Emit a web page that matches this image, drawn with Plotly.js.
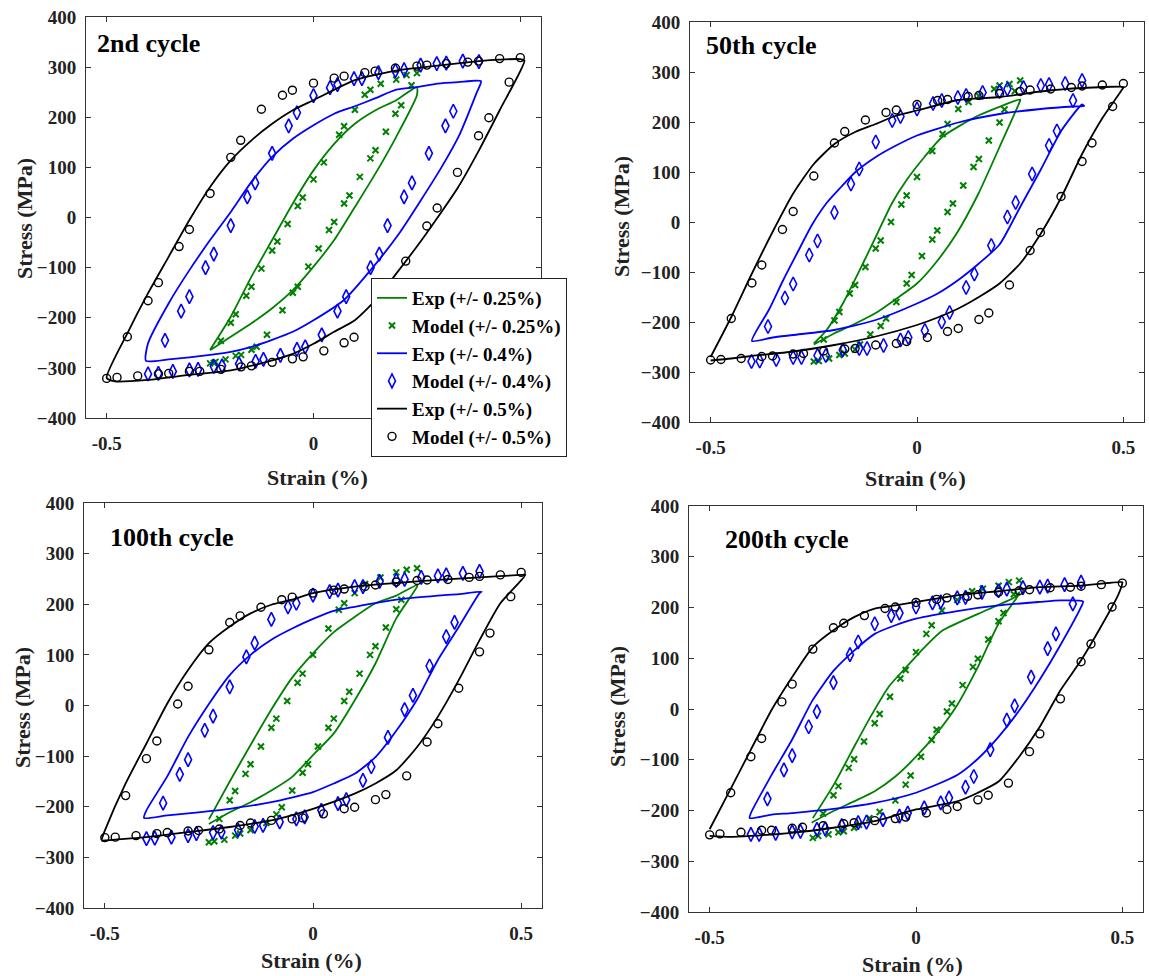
<!DOCTYPE html>
<html><head><meta charset="utf-8">
<script src="https://cdn.plot.ly/plotly-3.0.1.min.js"></script>
<style>html,body{margin:0;padding:0;background:#fff}#chart{width:1149px;height:976px}</style>
</head><body><div id="chart"></div>
<script>
// ---------- labels ----------
const panelTitles = ['2nd cycle', '50th cycle', '100th cycle', '200th cycle'];
const seriesNames = ['Exp (+/- 0.25%)', 'Model (+/- 0.25%)', 'Exp (+/- 0.4%)', 'Model (+/- 0.4%)', 'Exp (+/- 0.5%)', 'Model (+/- 0.5%)'];
const xTicks = [-0.5, 0, 0.5];
const xTickText = ['-0.5', '0', '0.5'];
const yTicks = [-400, -300, -200, -100, 0, 100, 200, 300, 400];

// ---------- 2nd cycle ----------
const c2_e25_x = [-0.25,-0.2,-0.15,-0.1,-0.05,0,0.05,0.1,0.15,0.2,0.25,0.25,0.2,0.15,0.1,0.05,0,-0.05,-0.1,-0.15,-0.2,-0.25];
const c2_e25_y = [-265,-238,-211,-181,-145,-98,-45,21,88,161,244,260,234,214,187,147,94,28,-45,-118,-198,-264];
const c2_m25_x = [0.25,0.225,0.2,0.1625,0.1375,0.124,0.1,0.074,0.062,0.025,0,-0.026,-0.038,-0.0625,-0.0875,-0.1,-0.126,-0.15,-0.1625,-0.188,-0.2,-0.224,-0.241,-0.25,-0.237,-0.2125,-0.188,-0.175,-0.15,-0.1375,-0.1125,-0.075,-0.05,-0.038,-0.0125,0.0125,0.0375,0.05,0.074,0.087,0.112,0.1375,0.15,0.175,0.198,0.212,0.237];
const c2_m25_y = [288,284,275,267,255,245,215,182,165,110,76,40,23,-13,-48,-66,-102,-138,-156,-193,-210,-246,-290,-291,-288,-283,-276,-274,-264,-258,-234,-185,-150,-138,-98,-62,-25,-9,28,44,81,118,134,171,207,224,264];
const c2_e40_x = [-0.405,-0.35,-0.3,-0.25,-0.2,-0.15,-0.1,-0.05,0,0.073,0.145,0.207,0.26,0.31,0.354,0.395,0.405,0.35,0.3,0.25,0.2,0.15,0.1,0.05,0,-0.05,-0.1,-0.15,-0.2,-0.25,-0.3,-0.35,-0.4,-0.405];
const c2_e40_y = [-286,-283,-279,-274,-268,-258,-244,-228,-205,-165,-98,-32,35,101,167,250,272,270,267,260,255,238,222,207,184,157,121,71,11,-45,-105,-171,-251,-286];
const c2_m40_x = [0.4,0.361,0.321,0.298,0.259,0.219,0.198,0.157,0.117,0.098,0.058,0.04,0,-0.04,-0.06,-0.1,-0.141,-0.16,-0.2,-0.241,-0.261,-0.3,-0.32,-0.359,-0.4,-0.375,-0.34,-0.3,-0.279,-0.241,-0.221,-0.18,-0.14,-0.121,-0.08,-0.04,-0.02,0.02,0.058,0.079,0.138,0.159,0.179,0.219,0.238,0.279,0.319,0.338];
const c2_m40_y = [311,312,308,307,304,295,293,289,277,277,265,259,243,209,183,128,69,41,-16,-73,-100,-158,-187,-245,-312,-311,-307,-304,-303,-297,-296,-292,-287,-283,-275,-263,-258,-234,-187,-158,-100,-73,-16,41,69,128,183,212];
const c2_e50_x = [-0.5,-0.48,-0.4,-0.3,-0.2,-0.1,-0.05,0,0.05,0.1,0.15,0.2,0.25,0.3,0.35,0.4,0.45,0.51,0.5,0.45,0.4,0.3,0.2,0.1,0,-0.05,-0.1,-0.15,-0.2,-0.25,-0.3,-0.35,-0.4,-0.45,-0.5];
const c2_e50_y = [-320,-327,-324,-314,-305,-285,-272,-252,-228,-205,-165,-112,-58,0,61,134,214,313,316,315,312,303,293,274,234,214,187,154,114,61,-5,-78,-151,-231,-320];
const c2_m50_x = [0.5,0.473,0.424,0.399,0.348,0.299,0.274,0.223,0.098,0.074,0.025,-0.025,-0.051,-0.1,-0.15,-0.175,-0.224,-0.275,-0.3,-0.35,-0.375,-0.425,-0.475,-0.5,0.45,0.399,0.373,0.321,0.274,0.25,0.198,0.149,0.124,0.074,0.05,0,-0.051,-0.075,-0.126,-0.176,-0.2,-0.25,-0.3,-0.325,-0.375,-0.4,-0.45];
const c2_m50_y = [319,270,199,163,90,19,-17,-87,-239,-250,-266,-278,-282,-289,-296,-298,-303,-307,-307,-311,-312,-316,-319,-321,317,312,310,307,304,302,298,292,289,282,278,268,254,244,216,154,120,48,-24,-58,-130,-166,-238];

// ---------- 50th cycle ----------
const c50_e25_x = [-0.25,-0.201,-0.149,-0.096,-0.044,0,0.044,0.096,0.149,0.2,0.25,0.25,0.149,0.061,0.018,-0.026,-0.061,-0.096,-0.131,-0.175,-0.219,-0.25];
const c50_e25_y = [-245,-223,-203,-180,-150,-123,-83,-23,57,150,243,245,213,170,130,83,37,-23,-83,-156,-216,-243];
const c50_m25_x = [0.25,0.224,0.2,0.187,0.15,0.125,0.1,0.074,0.062,0.037,0,-0.025,-0.038,-0.063,-0.088,-0.1,-0.125,-0.15,-0.163,-0.188,-0.2,-0.226,-0.25,-0.238,-0.213,-0.188,-0.175,-0.15,-0.138,-0.113,-0.088,-0.075,-0.05,-0.025,-0.013,0.012,0.037,0.049,0.074,0.087,0.112,0.137,0.15,0.174,0.2,0.212,0.237];
const c50_m25_y = [283,276,273,266,252,240,226,196,176,142,90,53,35,0,-37,-53,-90,-126,-143,-180,-197,-235,-279,-278,-273,-266,-263,-255,-245,-225,-208,-193,-160,-123,-106,-68,-35,-17,20,37,73,110,126,163,199,225,262];
const c50_e40_x = [-0.4,-0.35,-0.3,-0.2,-0.1,0,0.05,0.1,0.15,0.2,0.25,0.3,0.35,0.4,0.405,0.38,0.3,0.2,0.1,0,-0.053,-0.096,-0.149,-0.184,-0.219,-0.254,-0.289,-0.324,-0.359,-0.4];
const c50_e40_y = [-238,-231,-226,-216,-196,-163,-143,-116,-83,-45,30,105,183,235,232,231,226,216,199,173,152,132,100,70,38,-5,-60,-116,-176,-238];
const c50_m40_x = [0.4,0.359,0.32,0.3,0.258,0.219,0.2,0.159,0.119,0.099,0.06,0.039,0,-0.04,-0.06,-0.1,-0.14,-0.16,-0.2,-0.241,-0.261,-0.3,-0.32,-0.361,-0.401,-0.381,-0.341,-0.3,-0.28,-0.241,-0.221,-0.18,-0.14,-0.121,-0.081,-0.04,-0.021,0.019,0.06,0.079,0.119,0.139,0.18,0.219,0.239,0.279,0.32,0.339,0.378];
const c50_m40_y = [283,277,275,273,269,266,261,259,253,249,243,237,226,211,203,160,106,76,19,-38,-66,-124,-152,-209,-279,-278,-275,-271,-271,-267,-267,-256,-253,-253,-247,-236,-231,-217,-200,-181,-131,-104,-47,10,39,96,153,182,243];
const c50_e50_x = [-0.5,-0.45,-0.4,-0.3,-0.2,-0.1,0,0.05,0.1,0.15,0.2,0.25,0.3,0.35,0.4,0.45,0.5,0.5,0.4,0.3,0.2,0.1,0,-0.05,-0.1,-0.15,-0.2,-0.25,-0.3,-0.35,-0.4,-0.45,-0.5];
const c50_e50_y = [-277,-273,-268,-259,-246,-229,-206,-191,-173,-150,-123,-83,-23,50,136,209,269,270,268,261,250,244,223,213,196,180,156,116,57,-20,-103,-190,-270];
const c50_m50_x = [0.5,0.449,0.4,0.374,0.324,0.274,0.25,0.2,0.15,0.124,0.074,0.05,0,-0.05,-0.075,-0.125,-0.175,-0.2,-0.25,-0.3,-0.326,-0.376,-0.4,-0.45,-0.5,-0.475,-0.426,-0.376,-0.35,-0.3,-0.275,-0.226,-0.175,-0.15,-0.1,-0.05,-0.025,0.025,0.074,0.1,0.15,0.174,0.224,0.274,0.299,0.349,0.4,0.424,0.474];
const c50_m50_y = [277,274,272,269,266,264,261,257,253,251,245,243,235,224,219,204,181,158,92,21,-15,-86,-122,-193,-276,-275,-273,-269,-268,-264,-263,-258,-254,-253,-246,-243,-239,-231,-219,-213,-195,-182,-126,-57,-21,51,121,158,231];

// ---------- 100th cycle ----------
const c100_e25_x = [-0.25,-0.2,-0.15,-0.1,-0.05,0,0.05,0.1,0.15,0.2,0.25,0.25,0.2,0.15,0.1,0.05,0,-0.05,-0.1,-0.15,-0.2,-0.25];
const c100_e25_y = [-234,-211,-191,-168,-141,-98,-55,10,83,172,235,238,217,202,175,145,103,55,-8,-78,-150,-225];
const c100_m25_x = [0.25,0.225,0.2,0.162,0.125,0.1,0.075,0.062,0.037,0,-0.025,-0.037,-0.062,-0.088,-0.1,-0.125,-0.15,-0.162,-0.187,-0.2,-0.225,-0.25,-0.237,-0.213,-0.187,-0.175,-0.15,-0.112,-0.088,-0.075,-0.05,-0.025,-0.012,0.012,0.037,0.05,0.075,0.087,0.112,0.137,0.15,0.175,0.2,0.212];
const c100_m25_y = [271,268,263,253,240,222,202,189,152,100,63,45,9,-26,-44,-81,-116,-135,-169,-187,-224,-270,-268,-265,-257,-253,-246,-232,-215,-201,-168,-133,-116,-81,-44,-26,9,27,63,100,117,154,190,209];
const c100_e40_x = [-0.406,-0.35,-0.3,-0.2,-0.1,0,0.05,0.1,0.15,0.2,0.25,0.3,0.35,0.4,0.405,0.35,0.3,0.2,0.1,0.05,0,-0.05,-0.1,-0.15,-0.2,-0.25,-0.3,-0.35,-0.4,-0.406];
const c100_e40_y = [-222,-217,-213,-204,-191,-171,-154,-135,-102,-50,12,90,155,222,225,220,217,209,195,187,171,152,130,100,60,3,-62,-140,-207,-222];
const c100_m40_x = [0.4,0.36,0.32,0.3,0.26,0.22,0.2,0.16,0.12,0.1,0.06,0.04,0,-0.04,-0.06,-0.1,-0.14,-0.16,-0.2,-0.24,-0.26,-0.3,-0.32,-0.36,-0.4,-0.38,-0.34,-0.3,-0.28,-0.24,-0.22,-0.18,-0.14,-0.12,-0.08,-0.04,-0.02,0.02,0.06,0.08,0.12,0.14,0.18,0.22,0.24,0.28,0.32,0.34];
const c100_m40_y = [265,261,258,256,253,249,247,245,235,235,228,225,218,202,195,170,123,96,37,-21,-49,-107,-136,-193,-263,-262,-260,-257,-253,-251,-250,-246,-239,-237,-230,-224,-220,-207,-194,-186,-148,-121,-63,-8,20,78,136,164];
const c100_e50_x = [-0.508,-0.4,-0.3,-0.2,-0.1,0,0.1,0.15,0.2,0.25,0.3,0.35,0.4,0.45,0.51,0.5,0.4,0.3,0.2,0.1,0,-0.05,-0.1,-0.15,-0.2,-0.25,-0.3,-0.35,-0.4,-0.45,-0.5,-0.508];
const c100_e50_y = [-267,-260,-250,-240,-227,-204,-174,-154,-128,-82,-22,50,129,202,258,258,253,248,242,235,222,209,199,182,156,123,70,4,-75,-154,-247,-265];
const c100_m50_x = [0.5,0.45,0.4,0.375,0.324,0.274,0.25,0.2,0.15,0.125,0.075,0.05,0,-0.05,-0.075,-0.125,-0.175,-0.2,-0.25,-0.3,-0.325,-0.375,-0.4,-0.45,-0.5,-0.475,-0.425,-0.375,-0.35,-0.3,-0.275,-0.225,-0.175,-0.15,-0.1,-0.05,-0.025,0.025,0.075,0.1,0.15,0.175,0.225,0.274,0.3,0.35,0.4,0.425,0.475];
const c100_m50_y = [263,258,255,253,249,248,247,244,238,235,230,228,222,214,209,194,177,164,110,38,3,-70,-105,-178,-261,-260,-257,-253,-251,-248,-247,-244,-237,-232,-227,-224,-222,-214,-204,-201,-186,-176,-139,-72,-36,34,106,143,215];

// ---------- 200th cycle ----------
const c200_e25_x = [-0.253,-0.2,-0.15,-0.1,-0.05,0,0.05,0.1,0.15,0.2,0.25,0.25,0.239,0.152,0.065,0.021,-0.023,-0.066,-0.11,-0.145,-0.197,-0.25];
const c200_e25_y = [-224,-201,-182,-162,-133,-94,-48,8,83,168,227,230,220,188,155,122,83,44,-15,-67,-146,-215];
const c200_m25_x = [0.25,0.225,0.2,0.162,0.136,0.1,0.063,0.038,0.025,0,-0.025,-0.038,-0.063,-0.088,-0.1,-0.126,-0.15,-0.163,-0.188,-0.2,-0.225,-0.25,-0.237,-0.212,-0.188,-0.175,-0.15,-0.138,-0.113,-0.088,-0.05,-0.025,-0.013,0.012,0.038,0.05,0.075,0.087,0.113,0.138,0.15,0.175,0.2,0.212,0.237];
const c200_m25_y = [253,250,243,237,232,215,194,165,148,112,77,60,24,-10,-28,-64,-99,-116,-152,-170,-206,-254,-250,-247,-243,-241,-234,-228,-215,-203,-180,-149,-131,-94,-61,-41,-5,11,47,83,99,137,173,189,226];
const c200_e40_x = [-0.403,-0.35,-0.3,-0.2,-0.1,0,0.1,0.15,0.2,0.25,0.3,0.35,0.4,0.405,0.35,0.3,0.2,0.1,0,-0.05,-0.1,-0.15,-0.2,-0.25,-0.3,-0.35,-0.4,-0.403];
const c200_e40_y = [-215,-208,-205,-197,-185,-165,-130,-98,-55,-3,58,126,201,212,214,211,204,193,178,165,148,115,75,18,-60,-130,-205,-215];
const c200_m40_x = [0.4,0.36,0.319,0.3,0.259,0.22,0.2,0.16,0.12,0.1,0.06,0.04,0,-0.04,-0.06,-0.1,-0.14,-0.16,-0.2,-0.24,-0.26,-0.3,-0.32,-0.36,-0.4,-0.38,-0.34,-0.3,-0.28,-0.24,-0.22,-0.18,-0.14,-0.12,-0.08,-0.04,-0.02,0.02,0.06,0.08,0.12,0.14,0.18,0.22,0.239,0.279,0.319,0.339,0.38];
const c200_m40_y = [250,245,242,240,239,236,233,230,220,219,211,209,201,189,184,168,132,107,52,-5,-35,-92,-120,-177,-247,-247,-245,-242,-241,-237,-236,-230,-224,-223,-218,-211,-205,-195,-185,-175,-154,-133,-80,-22,6,63,119,148,207];
const c200_e50_x = [-0.5,-0.45,-0.4,-0.3,-0.2,-0.1,0,0.1,0.15,0.2,0.25,0.3,0.35,0.4,0.45,0.49,0.5,0.5,0.4,0.3,0.2,0.1,0,-0.05,-0.1,-0.15,-0.2,-0.25,-0.3,-0.35,-0.4,-0.45,-0.5];
const c200_e50_y = [-250,-252,-250,-244,-234,-221,-198,-182,-165,-143,-94,-35,37,96,165,225,248,250,243,240,232,224,211,204,198,181,155,122,63,-2,-80,-159,-237];
const c200_m50_x = [0.5,0.449,0.4,0.374,0.325,0.275,0.25,0.2,0.15,0.125,0.075,0.05,0,-0.05,-0.075,-0.125,-0.175,-0.2,-0.25,-0.3,-0.325,-0.374,-0.4,-0.449,-0.5,-0.475,-0.424,-0.374,-0.35,-0.3,-0.275,-0.225,-0.175,-0.15,-0.1,-0.05,-0.025,0.025,0.075,0.1,0.15,0.175,0.224,0.275,0.3,0.35,0.4,0.424,0.475];
const c200_m50_y = [248,245,242,240,239,235,233,230,225,222,219,216,210,201,198,184,169,160,118,49,14,-58,-94,-165,-248,-246,-243,-239,-239,-235,-233,-230,-226,-224,-220,-216,-213,-205,-198,-192,-179,-170,-146,-84,-49,20,93,128,201];

// ---------- build ----------
const W = 1149, H = 976;
const SERIF = 'Liberation Serif, Times New Roman, serif';
const GREEN = '#008000', BLUE = '#0000ff', BLACK = '#000000', AX = '#333333';
// pixel boxes [left, right, top, bottom]
const boxes = [[86,541,17,418],[690,1144,22,422],[84,542,503,908],[689,1143,506,912]];
const panelData = [
  [[c2_e25_x,c2_e25_y],[c2_m25_x,c2_m25_y],[c2_e40_x,c2_e40_y],[c2_m40_x,c2_m40_y],[c2_e50_x,c2_e50_y],[c2_m50_x,c2_m50_y]],
  [[c50_e25_x,c50_e25_y],[c50_m25_x,c50_m25_y],[c50_e40_x,c50_e40_y],[c50_m40_x,c50_m40_y],[c50_e50_x,c50_e50_y],[c50_m50_x,c50_m50_y]],
  [[c100_e25_x,c100_e25_y],[c100_m25_x,c100_m25_y],[c100_e40_x,c100_e40_y],[c100_m40_x,c100_m40_y],[c100_e50_x,c100_e50_y],[c100_m50_x,c100_m50_y]],
  [[c200_e25_x,c200_e25_y],[c200_m25_x,c200_m25_y],[c200_e40_x,c200_e40_y],[c200_m40_x,c200_m40_y],[c200_e50_x,c200_e50_y],[c200_m50_x,c200_m50_y]]
];
const styles = [
  {mode:'lines', line:{color:GREEN, width:1.8, shape:'spline', smoothing:0.6}},
  {mode:'markers', marker:{symbol:'x-thin-open', size:6, color:GREEN, line:{color:GREEN, width:2}}},
  {mode:'lines', line:{color:BLUE, width:1.8, shape:'spline', smoothing:0.6}},
  {mode:'markers', marker:{symbol:'diamond-tall-open', size:10, color:BLUE, line:{color:BLUE, width:1.6}}},
  {mode:'lines', line:{color:BLACK, width:1.8, shape:'spline', smoothing:0.6}},
  {mode:'markers', marker:{symbol:'circle-open', size:8, color:BLACK, line:{color:BLACK, width:1.4}}}
];
const pxX = p => p / W, pxY = p => 1 - p / H;
const traces = [];
const layout = {
  width: W, height: H, margin:{l:0,r:0,t:0,b:0},
  paper_bgcolor:'#ffffff', plot_bgcolor:'#ffffff',
  showlegend: true,
  legend:{x:pxX(567), xanchor:'right', y:pxY(278), yanchor:'top', bgcolor:'#ffffff', bordercolor:'#222222', borderwidth:1,
    font:{family:SERIF, size:19, weight:'bold', color:'#000'}, itemwidth:30, tracegroupgap:0},
  annotations: []
};
const yTitlePos = [[24,219],[621,217],[22,708],[617,707]];
const xTitlePos = [[317,477],[916,478],[311,960],[912,964]];
const labelPos = [[95,44],[704,46],[108,537],[723,539]];
panelData.forEach((series, i) => {
  const sfx = i === 0 ? '' : String(i + 1);
  const b = boxes[i];
  const axBase = {showline:true, mirror:'ticks', linecolor:AX, linewidth:1, ticks:'inside', ticklen:5, tickwidth:1, tickcolor:AX,
    showgrid:false, zeroline:false, tickfont:{family:SERIF, size:19, weight:'bold', color:'#222'}, fixedrange:true};
  layout['xaxis' + sfx] = Object.assign({}, axBase, {domain:[pxX(b[0]), pxX(b[1])], range:[-0.55, 0.55], tickmode:'array',
    tickvals:xTicks, ticktext:xTickText, anchor:'y' + sfx, ticklabelstandoff:8});
  layout['yaxis' + sfx] = Object.assign({}, axBase, {domain:[pxY(b[3]), pxY(b[2])], range:[-400, 400], tickmode:'array',
    tickvals:yTicks, anchor:'x' + sfx, ticklabelstandoff:5});
  series.forEach((d, k) => {
    traces.push(Object.assign({x:d[0], y:d[1], type:'scatter', name:seriesNames[k], xaxis:'x' + sfx, yaxis:'y' + sfx,
      showlegend: i === 0, hoverinfo:'x+y'}, JSON.parse(JSON.stringify(styles[k]))));
  });
  layout.annotations.push({text:panelTitles[i], xref:'paper', yref:'paper', x:pxX(labelPos[i][0]), y:pxY(labelPos[i][1]),
    xanchor:'left', yanchor:'middle', showarrow:false, font:{family:SERIF, size:26, weight:'bold', color:'#000'}});
  layout.annotations.push({text:'Stress (MPa)', xref:'paper', yref:'paper', x:pxX(yTitlePos[i][0]), y:pxY(yTitlePos[i][1]),
    xanchor:'center', yanchor:'middle', textangle:-90, showarrow:false, font:{family:SERIF, size:22, weight:'bold', color:'#222'}});
  layout.annotations.push({text:'Strain (%)', xref:'paper', yref:'paper', x:pxX(xTitlePos[i][0]), y:pxY(xTitlePos[i][1]),
    xanchor:'center', yanchor:'middle', showarrow:false, font:{family:SERIF, size:22, weight:'bold', color:'#222'}});
});
Plotly.newPlot('chart', traces, layout, {staticPlot:true, displayModeBar:false});
</script>
</body></html>
